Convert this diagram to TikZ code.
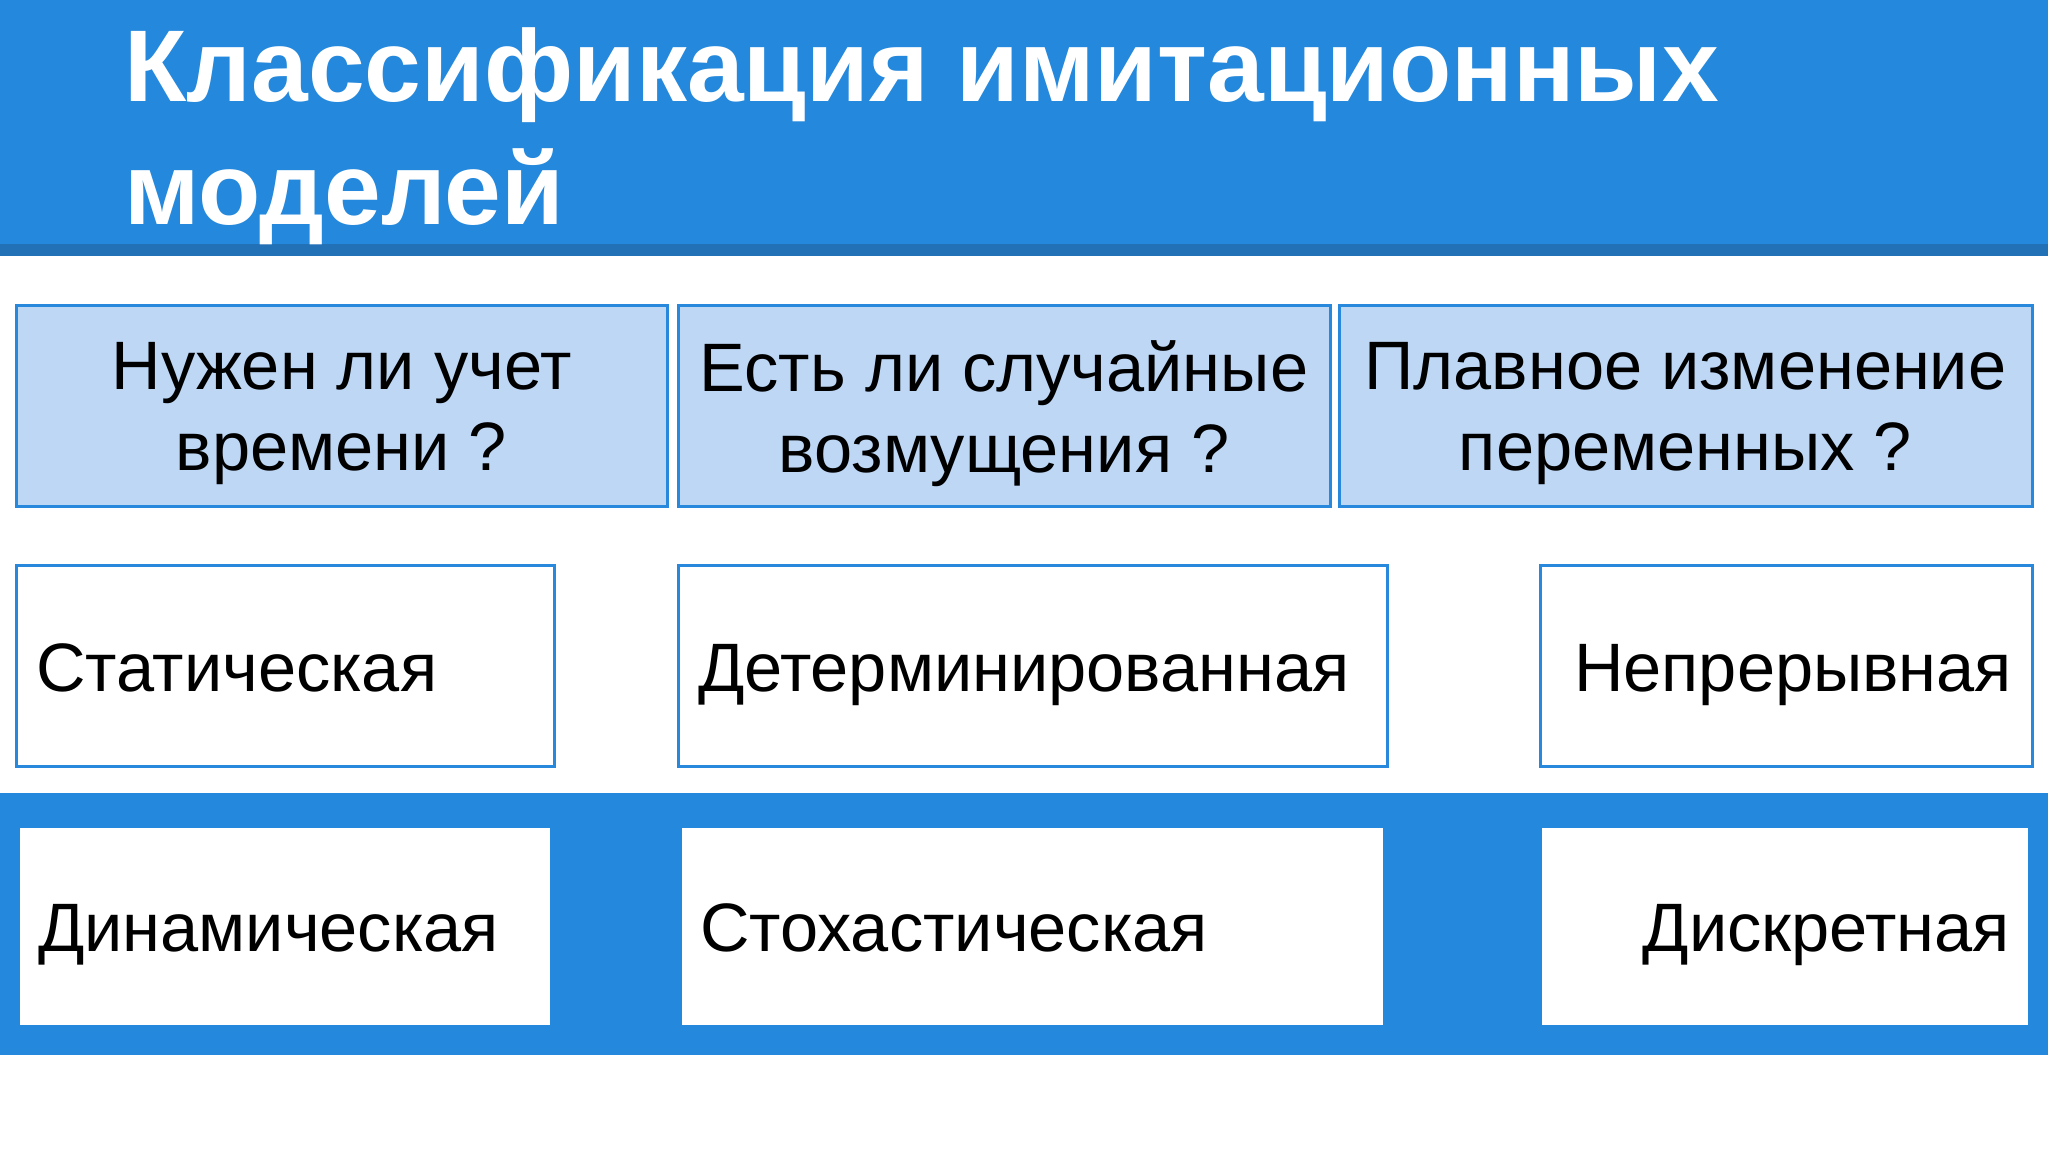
\documentclass[tikz,border=0pt]{standalone}
\usepackage{fontspec}
\setmainfont{Liberation Sans}
\usepackage{xcolor}
\usepackage{tikz}
\definecolor{headblue}{RGB}{36, 136, 220}
\definecolor{stripblue}{RGB}{34, 112, 182}
\definecolor{edgeblue}{RGB}{40, 137, 220}
\definecolor{lightfill}{RGB}{189, 215, 245}
\usetikzlibrary{positioning}

\begin{document}
\begin{tikzpicture}[
    x=0.1mm, y=-0.1mm,
    title/.style={anchor=base west, inner xsep=0pt, text=white, align=left, font=\fontsize{29}{35}\selectfont\bfseries},
    question/.style={rectangle, draw=edgeblue, line width=0.3mm, fill=lightfill, minimum height=20.1mm, text depth=0pt, align=center, font=\fontsize{19.5}{23}\selectfont},
    kind/.style={rectangle, draw=edgeblue, line width=0.3mm, fill=white, minimum height=20.1mm, inner xsep=2mm, text height=13.96pt, text depth=0pt, font=\fontsize{19.5}{23}\selectfont},
    answer/.style={rectangle, fill=white, minimum height=19.7mm, inner xsep=1.8mm, text height=13.96pt, text depth=0pt, font=\fontsize{19.5}{23}\selectfont}
]
    \useasboundingbox (0, 0) rectangle (2048, 1152);

    % Header
    \fill[headblue] (0, 0) rectangle (2048, 244);
    \fill[stripblue] (0, 244) rectangle (2048, 256);
    \node[title] (title) at (124, 225) {Классификация имитационных\\моделей};

    % Questions
    \node[question, minimum width=65.1mm] (time) at (341.5, 406.5) {Нужен ли учет\\времени ?};
    \node[question, minimum width=65.2mm] (random) at (1004, 406.5) {Есть ли случайные\\возмущения ?};
    \node[question, minimum width=69.3mm] (smooth) at (1685.5, 406.5) {Плавное изменение\\переменных ?};

    \node[kind, text width=49.8mm, align=left] (static) at (285, 666.5) {Статическая};
    \node[kind, text width=66.9mm, align=left] (determ) at (1032.5, 666.5) {Детерминированная};
    \node[kind, text width=45.2mm, align=right] (cont) at (1786, 666.5) {Непрерывная};

    % Band
    \fill[headblue] (0, 793) rectangle (2048, 1055);
    \node[answer, text width=49.4mm, align=left] (dynamic) at (285, 926.5) {Динамическая};
    \node[answer, text width=66.5mm, align=left] (stoch) at (1032.5, 926.5) {Стохастическая};
    \node[answer, text width=45.0mm, align=right] (discr) at (1785, 926.5) {Дискретная};
\end{tikzpicture}
\end{document}
